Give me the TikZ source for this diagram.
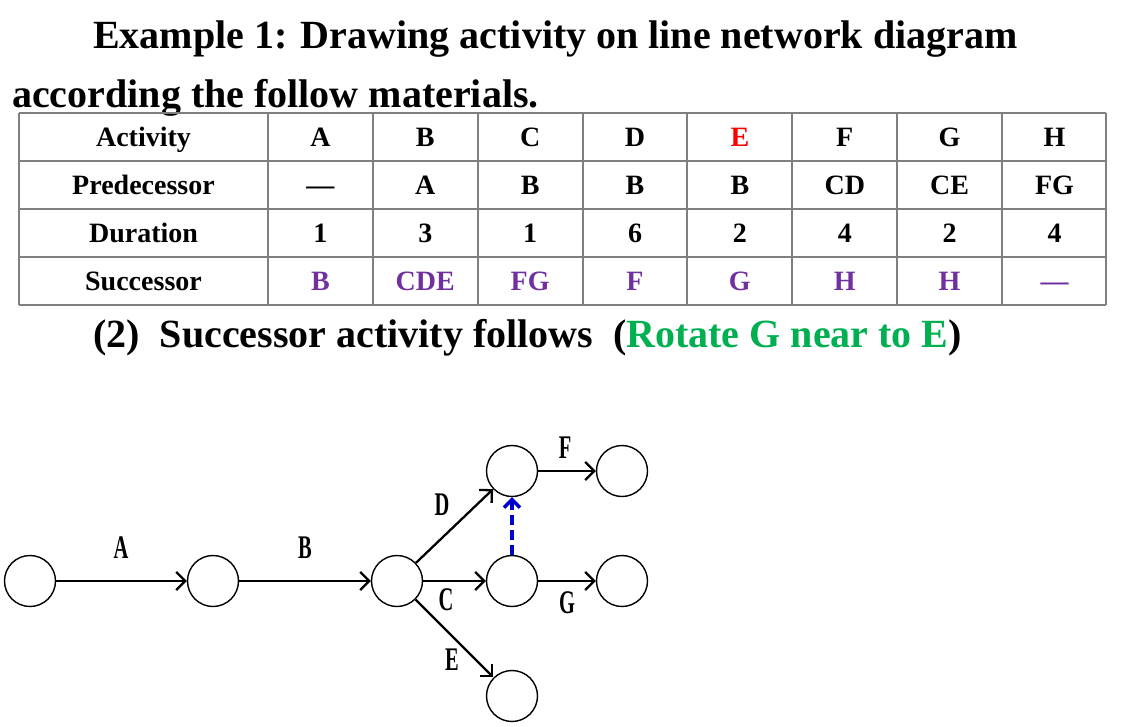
\documentclass[tikz,border=0pt]{standalone}
\usepackage{fontspec}
\setmainfont{Liberation Serif}
\newfontfamily\labfont[FakeStretch=0.62]{Liberation Serif}
\usetikzlibrary{arrows.meta}
\definecolor{purp}{HTML}{7030A0}
\definecolor{grn}{HTML}{00B050}
\definecolor{gridgray}{HTML}{808080}
\definecolor{dblue}{HTML}{0000CC}
\begin{document}
\begin{tikzpicture}[x=1pt,y=-1pt,
  title/.style={font=\fontsize{40}{44}\selectfont\bfseries, anchor=base west, inner sep=0pt},
  cell/.style={font=\fontsize{28}{30}\selectfont\bfseries, anchor=base, inner sep=0pt},
  event/.style={draw, circle, minimum size=51pt, inner sep=0pt, line width=1.4pt},
  act/.style={draw, line width=2.3pt, -{Straight Barb[length=9pt,width=18pt]}},
  dummy/.style={draw=dblue, line width=3.4pt, dash pattern=on 10pt off 5pt, -{Straight Barb[length=8pt,width=16pt]}},
  lab/.style={font=\labfont\bfseries\fontsize{33}{34}\selectfont, inner sep=0pt},
  grid/.style={draw=gridgray, line width=2pt}
]
\useasboundingbox (0,0) rectangle (1125,726);
% titles
\node[title] (t1) at (93,48) {Example 1: Drawing activity on line network diagram};
\node[title] (t2) at (12,107) {according the follow materials.};
\node[title] (t3) at (93,347) {(2)\ \ Successor activity follows\ \ (\textcolor{grn}{Rotate G near to E})};
% table grid
\foreach \yy in {113,161,209,257,305} \draw[grid] (19,\yy) -- (1106,\yy);
\foreach \xx in {19,268,373,478,583,687,792,897,1002,1106} \draw[grid] (\xx,113) -- (\xx,305);
% table texts
\foreach \txt [count=\i] in {Activity,A,B,C,D,\textcolor{red}{E},F,G,H}
  \node[cell] (r1c\i) at ({\i==1 ? 143.5 : 215.5+(\i-1)*104.875},146.5) {\txt};
\foreach \txt [count=\i] in {Predecessor,---,A,B,B,B,CD,CE,FG}
  \node[cell] (r2c\i) at ({\i==1 ? 143.5 : 215.5+(\i-1)*104.875},194.5) {\txt};
\foreach \txt [count=\i] in {Duration,1,3,1,6,2,4,2,4}
  \node[cell] (r3c\i) at ({\i==1 ? 143.5 : 215.5+(\i-1)*104.875},242.5) {\txt};
\node[cell] (r4c1) at (143.5,290.5) {Successor};
\foreach \txt [count=\i from 2] in {B,CDE,FG,F,G,H,H,---}
  \node[cell, text=purp] (r4c\i) at ({215.5+(\i-1)*104.875},290.5) {\txt};
% network
\node[event] (n1) at (30,581) {};
\node[event] (n2) at (213,581) {};
\node[event] (n3) at (397,581) {};
\node[event] (n4) at (512,471) {};
\node[event] (n5) at (622,471) {};
\node[event] (n6) at (512,581) {};
\node[event] (n7) at (622,581) {};
\node[event] (n8) at (512,696) {};
\draw[act] (n1) -- (n2);
\draw[act] (n2) -- (n3);
\draw[act] (n3) -- (n4);
\draw[act] (n3) -- (n6);
\draw[act] (n3) -- (n8);
\draw[act] (n4) -- (n5);
\draw[act] (n6) -- (n7);
\draw[dummy] (n6) -- (n4);
\node[lab] (lA) at (121,548) {A};
\node[lab] (lB) at (305,548) {B};
\node[lab] (lD) at (442,505) {D};
\node[lab] (lC) at (446,600) {C};
\node[lab] (lE) at (452,660) {E};
\node[lab] (lF) at (565,448) {F};
\node[lab] (lG) at (567,603) {G};
\end{tikzpicture}
\end{document}
